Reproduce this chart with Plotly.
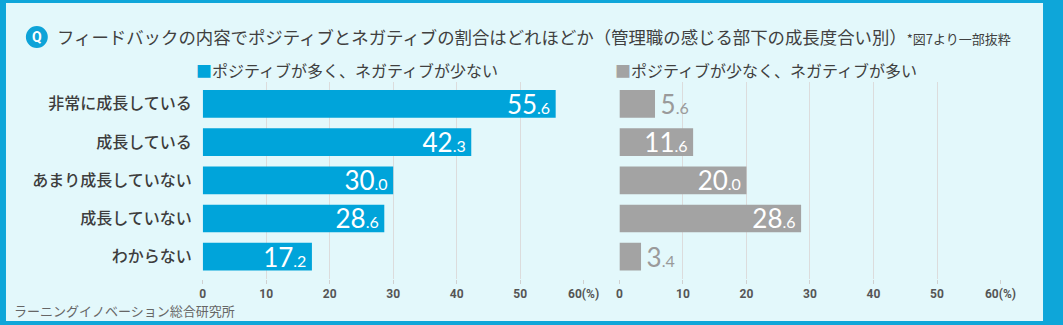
import plotly.graph_objects as go

W, H = 1063, 325
WE = 1049  # width the page actually gives the figure (measured from the render)

categories = ["非常に成長している", "成長している", "あまり成長していない", "成長していない", "わからない"]
positive_more = [55.6, 42.3, 30.0, 28.6, 17.2]
negative_more = [5.6, 11.6, 20.0, 28.6, 3.4]
tick_vals = [0, 10, 20, 30, 40, 50, 60]
tick_text = ["0", "10", "20", "30", "40", "50", "60(%)"]

title_text = "フィードバックの内容でポジティブとネガティブの割合はどれほどか（管理職の感じる部下の成長度合い別）"
title_note = "*図7より一部抜粋"
legend_pos = "ポジティブが多く、ネガティブが少ない"
legend_neg = "ポジティブが少なく、ネガティブが多い"
source_text = "ラーニングイノベーション総合研究所"

BLUE = "#00a4da"
GRAY = "#a3a3a3"
BG = "#e3f8fb"
BORDER = "#0ea6d9"
CJK = "Noto Sans CJK JP"
NUM = "Lato"


def fmt_in(v):
    a, b = f"{v:.1f}".split(".")
    return f"{a}<span style='font-size:16px'>.{b}</span><span style='font-size:10px'> </span>"


def fmt_out(v):
    a, b = f"{v:.1f}".split(".")
    return f"<span style='font-size:10px'> </span>{a}<span style='font-size:16px'>.{b}</span>"


def px_x(p):
    return p / WE


def px_y(p):
    return 1 - p / H


fig = go.Figure()

fig.add_trace(go.Bar(
    y=categories, x=positive_more, orientation="h",
    marker=dict(color=BLUE, line=dict(width=0)),
    text=[fmt_in(v) for v in positive_more],
    textposition="inside", insidetextanchor="end",
    insidetextfont=dict(family=NUM, size=26, color="white"),
    constraintext="none", cliponaxis=False,
    xaxis="x", yaxis="y", hoverinfo="skip", showlegend=False,
))

neg_pos = ["inside" if v > 8 else "outside" for v in negative_more]
fig.add_trace(go.Bar(
    y=categories, x=negative_more, orientation="h",
    marker=dict(color=GRAY, line=dict(width=0)),
    text=[fmt_in(v) if p == "inside" else fmt_out(v) for v, p in zip(negative_more, neg_pos)],
    textposition=neg_pos, insidetextanchor="end",
    insidetextfont=dict(family=NUM, size=26, color="white"),
    outsidetextfont=dict(family=NUM, size=26, color="#9a9a9a"),
    constraintext="none", cliponaxis=False,
    xaxis="x2", yaxis="y2", hoverinfo="skip", showlegend=False,
))

xcommon = dict(
    range=[0, 60], tickvals=tick_vals, ticktext=tick_text,
    showgrid=True, gridcolor="#dcdcdc", gridwidth=1,
    zeroline=False, showline=False,
    ticks="outside", ticklen=4, tickcolor="#d0d0d0",
    tickfont=dict(family="Roboto", size=12, color="#555555", weight="bold"),
    fixedrange=True,
)
ycommon = dict(
    type="category", categoryorder="array", categoryarray=categories,
    range=[4.584, -0.573], showgrid=False, zeroline=False, showline=False,
    ticks="", fixedrange=True,
)

y0 = px_y(279)
y1 = px_y(82)

fig.update_layout(
    width=W, height=H, autosize=False,
    margin=dict(l=0, r=0, t=0, b=0),
    paper_bgcolor=BORDER,
    plot_bgcolor="white",
    bargap=0.275,
    xaxis=dict(domain=[px_x(200.7), px_x(583.4)], anchor="y", **xcommon),
    xaxis2=dict(domain=[px_x(619.4), px_x(1002.3)], anchor="y2", **xcommon),
    yaxis=dict(domain=[y0, y1], anchor="x", showticklabels=True,
               ticklabelstandoff=10,
               tickfont=dict(family=CJK, size=16, color="#3d3d3d", weight=500),
               **ycommon),
    yaxis2=dict(domain=[y0, y1], anchor="x2", showticklabels=False, **ycommon),
    shapes=[
        dict(type="rect", xref="paper", yref="paper",
             x0=px_x(3), x1=px_x(WE - 4), y0=px_y(321), y1=px_y(3),
             fillcolor=BG, line=dict(width=0), layer="below"),
        dict(type="circle", xref="paper", yref="paper",
             x0=px_x(23), x1=px_x(45), y0=px_y(48), y1=px_y(26),
             fillcolor="#0ea3d8", line=dict(width=0)),
    ],
    annotations=[
        dict(x=px_x(34), y=px_y(37), xref="paper", yref="paper",
             text="<b>Q</b>", showarrow=False, xanchor="center", yanchor="middle",
             font=dict(family="Roboto", size=14, color="white")),
        dict(x=px_x(52), y=px_y(37), xref="paper", yref="paper",
             text=f"{title_text}<span style='font-size:13px'>{title_note}</span>",
             showarrow=False, xanchor="left", yanchor="middle",
             font=dict(family=CJK, size=17.4, color="#404040")),
        dict(x=px_x(192), y=px_y(70), xref="paper", yref="paper",
             text=f"<span style='color:{BLUE}'>■</span>{legend_pos}",
             showarrow=False, xanchor="left", yanchor="middle",
             font=dict(family=CJK, size=16, color="#404040")),
        dict(x=px_x(613), y=px_y(70), xref="paper", yref="paper",
             text=f"<span style='color:{GRAY}'>■</span>{legend_neg}",
             showarrow=False, xanchor="left", yanchor="middle",
             font=dict(family=CJK, size=16, color="#404040")),
        dict(x=px_x(9), y=px_y(310), xref="paper", yref="paper",
             text=source_text, showarrow=False, xanchor="left", yanchor="middle",
             font=dict(family=CJK, size=13, color="#666666")),
    ],
)

fig.write_html("out.html")
